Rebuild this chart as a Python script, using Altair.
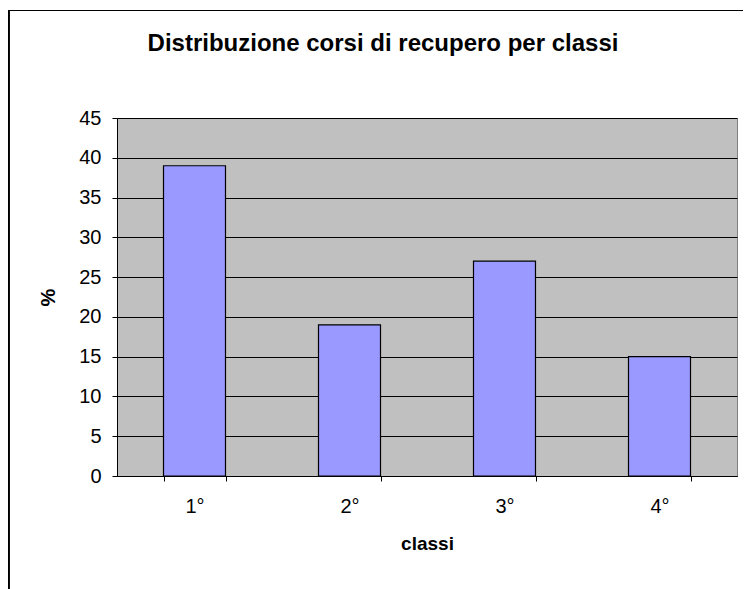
import altair as alt
import pandas as pd

categories = ["1°", "2°", "3°", "4°"]
values = [39, 19, 27, 15]

df = pd.DataFrame({"classe": categories, "perc": values})

FONT = "Liberation Sans"

bars = alt.Chart(df).mark_bar(
    color="#9999FF", stroke="#000000", strokeWidth=1.2
).encode(
    x=alt.X(
        "classe:N",
        sort=categories,
        scale=alt.Scale(paddingInner=0.6, paddingOuter=0.3),
        axis=alt.Axis(
            title="classi",
            labelAngle=0,
            tickBand="extent",
            tickSize=5,
            tickColor="#000000",
            domainColor="#000000",
            labelFont=FONT,
            labelFontSize=20,
            labelColor="#000000",
            labelPadding=15,
            titleFont=FONT,
            titleFontSize=19,
            titleFontWeight="bold",
            titleColor="#000000",
            titlePadding=18,
        ),
    ),
    y=alt.Y(
        "perc:Q",
        scale=alt.Scale(domain=[0, 45], nice=False),
        axis=alt.Axis(
            title="%",
            values=[0, 5, 10, 15, 20, 25, 30, 35, 40, 45],
            tickSize=5,
            tickColor="#000000",
            domainColor="#000000",
            grid=True,
            gridColor="#000000",
            gridWidth=1,
            labelFont=FONT,
            labelFontSize=20,
            labelColor="#000000",
            labelPadding=11,
            titleFont=FONT,
            titleFontSize=20,
            titleFontWeight="bold",
            titleColor="#000000",
            titleX=-69,
            titleY=179,
            titleBaseline="middle",
            titleAlign="center",
        ),
    ),
)

frame_left = alt.Chart(df).mark_rule(color="#000000", strokeWidth=2, clip=False).encode(
    x=alt.value(-108.5), y=alt.value(-108), y2=alt.value(480)
)
frame_top = alt.Chart(df).mark_rule(color="#000000", strokeWidth=1.2, clip=False).encode(
    x=alt.value(-109), x2=alt.value(640), y=alt.value(-107.5)
)

chart = alt.layer(bars, frame_left, frame_top).properties(
    width=620,
    height=358,
    background="#FFFFFF",
    view=alt.ViewBackground(fill="#C0C0C0", stroke="#808080", strokeWidth=1),
    autosize=alt.AutoSizeParams(type="none"),
    padding={"left": 109, "top": 110, "right": 6, "bottom": 115},
    title=alt.TitleParams(
        "Distribuzione corsi di recupero per classi",
        font=FONT,
        fontSize=24,
        fontWeight="bold",
        color="#000000",
        anchor="middle",
        dx=-44,
        dy=57,
        offset=10,
    ),
).configure_view(
    fill="#C0C0C0", stroke="#808080", strokeWidth=1
)

chart.save("out.html", embed_options={"renderer": "svg", "actions": False})
